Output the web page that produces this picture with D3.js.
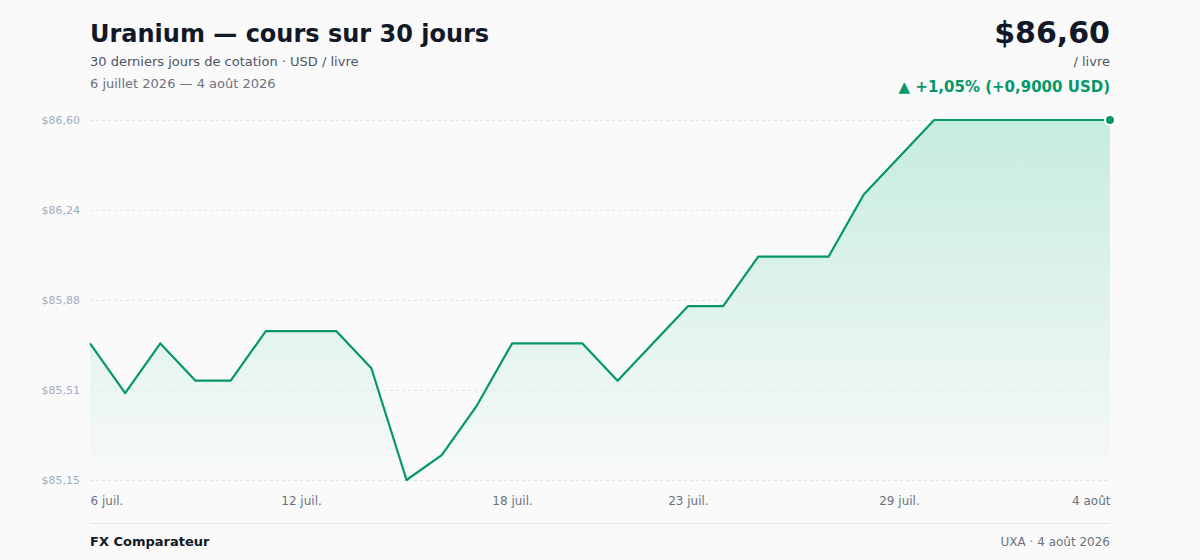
<!DOCTYPE html>
<html>
<head>
<meta charset="utf-8">
<script src="https://cdn.jsdelivr.net/npm/d3@7"></script>
<style>
  body { margin: 0; background: #fafafa; font-family: "DejaVu Sans", sans-serif; }
  svg { display: block; }
</style>
</head>
<body>
<div id="chart"></div>
<script>
// 30 jours de cotation, 6 juillet -> 4 aout 2026
var days = ["6 juil.", "7 juil.", "8 juil.", "9 juil.", "10 juil.", "11 juil.", "12 juil.", "13 juil.",
  "14 juil.", "15 juil.", "16 juil.", "17 juil.", "18 juil.", "19 juil.", "20 juil.", "21 juil.",
  "22 juil.", "23 juil.", "24 juil.", "25 juil.", "26 juil.", "27 juil.", "28 juil.", "29 juil.",
  "30 juil.", "31 juil.", "1 août", "2 août", "3 août", "4 août"];
var prices = [85.70, 85.50, 85.70, 85.55, 85.55, 85.75, 85.75, 85.75, 85.60, 85.15,
  85.25, 85.45, 85.70, 85.70, 85.70, 85.55, 85.70, 85.85, 85.85, 86.05,
  86.05, 86.05, 86.30, 86.45, 86.60, 86.60, 86.60, 86.60, 86.60, 86.60];
var tickDays = ["6 juil.", "12 juil.", "18 juil.", "23 juil.", "29 juil.", "4 août"];

var svgWidth = 1200;
var svgHeight = 560;
var margin = { top: 120, right: 90, bottom: 80, left: 90 };
var width = svgWidth - margin.left - margin.right;
var height = svgHeight - margin.top - margin.bottom;

var green = "#059669";
var fmt = d3.format(".2f");
function money(v) { return "$" + fmt(v).replace(".", ","); }

var svg = d3.select("#chart")
  .append("svg")
  .attr("width", svgWidth)
  .attr("height", svgHeight);

var defs = svg.append("defs");
var grad = defs.append("linearGradient")
  .attr("id", "areaFill")
  .attr("x1", 0).attr("y1", 0).attr("x2", 0).attr("y2", 1);
grad.append("stop").attr("offset", "0%").attr("stop-color", "#10b981").attr("stop-opacity", 0.22);
grad.append("stop").attr("offset", "100%").attr("stop-color", "#10b981").attr("stop-opacity", 0.01);

// header
svg.append("text")
  .attr("x", 90).attr("y", 42)
  .style("font-size", "24px").style("font-weight", "bold").style("fill", "#111827")
  .text("Uranium — cours sur 30 jours");
svg.append("text")
  .attr("x", 90).attr("y", 66)
  .style("font-size", "13px").style("fill", "#4b5563")
  .text("30 derniers jours de cotation · USD / livre");
svg.append("text")
  .attr("x", 90).attr("y", 88)
  .style("font-size", "13px").style("fill", "#6b7280")
  .text("6 juillet 2026 — 4 août 2026");

var last = prices[prices.length - 1];
var first = prices[0];
var diff = last - first;
var pct = diff / first * 100;

svg.append("text")
  .attr("x", 1110).attr("y", 43)
  .attr("text-anchor", "end")
  .style("font-size", "30px").style("font-weight", "bold").style("fill", "#111827")
  .text(money(last));
svg.append("text")
  .attr("x", 1110).attr("y", 66)
  .attr("text-anchor", "end")
  .style("font-size", "13px").style("fill", "#4b5563")
  .text("/ livre");
svg.append("text")
  .attr("x", 1110).attr("y", 92)
  .attr("text-anchor", "end")
  .style("font-size", "15px").style("font-weight", "bold").style("fill", green)
  .text("▲ +" + d3.format(".2f")(pct).replace(".", ",") + "% (+" + d3.format(".4f")(diff).replace(".", ",") + " USD)");

var chartGroup = svg.append("g")
  .attr("transform", `translate(${margin.left}, ${margin.top})`);

// scales
var xScale = d3.scalePoint()
  .domain(days)
  .range([0, width]);

var yMin = d3.min(prices), yMax = d3.max(prices);
var yScale = d3.scaleLinear()
  .domain([yMin, yMax])
  .range([height, 0]);

var yTicks = d3.range(5).map(i => yMin + (yMax - yMin) * i / 4);

// area + line
var area = d3.area()
  .x((d, i) => xScale(days[i]))
  .y0(height - 17)
  .y1(d => yScale(d));

var line = d3.line()
  .x((d, i) => xScale(days[i]))
  .y(d => yScale(d));

chartGroup.append("path")
  .datum(prices)
  .attr("d", area)
  .attr("fill", "url(#areaFill)");

// grid + y labels
var leftAxis = d3.axisLeft(yScale)
  .tickValues(yTicks)
  .tickSize(-width)
  .tickPadding(10)
  .tickFormat(money);

var yAxisG = chartGroup.append("g").call(leftAxis);
yAxisG.select(".domain").remove();
yAxisG.selectAll(".tick line")
  .attr("stroke", "#e2e5ea")
  .attr("stroke-dasharray", "3,3");
yAxisG.selectAll(".tick text")
  .style("font-family", "DejaVu Sans, sans-serif")
  .style("font-size", "11px")
  .style("fill", "#a0aec0");

// x labels
var bottomAxis = d3.axisBottom(xScale)
  .tickValues(tickDays)
  .tickSize(0)
  .tickPadding(16);

var xAxisG = chartGroup.append("g")
  .attr("transform", `translate(0, ${height})`)
  .call(bottomAxis);
xAxisG.select(".domain").remove();
xAxisG.selectAll(".tick text")
  .style("font-family", "DejaVu Sans, sans-serif")
  .style("font-size", "12px")
  .style("fill", "#6b7280")
  .attr("text-anchor", (d, i) => i === 0 ? "start" : (i === tickDays.length - 1 ? "end" : "middle"));

chartGroup.append("path")
  .datum(prices)
  .attr("d", line)
  .attr("fill", "none")
  .attr("stroke", green)
  .attr("stroke-width", 2.2)
  .attr("stroke-linejoin", "round");

chartGroup.append("circle")
  .attr("cx", xScale(days[days.length - 1]))
  .attr("cy", yScale(last))
  .attr("r", 5)
  .attr("fill", green)
  .attr("stroke", "#ffffff")
  .attr("stroke-width", 2);

// footer
svg.append("line")
  .attr("x1", 90).attr("x2", 1110)
  .attr("y1", 523.5).attr("y2", 523.5)
  .attr("stroke", "#e5e7eb");
svg.append("text")
  .attr("x", 90).attr("y", 546)
  .style("font-size", "13px").style("font-weight", "bold").style("fill", "#111827")
  .text("FX Comparateur");
svg.append("text")
  .attr("x", 1110).attr("y", 546)
  .attr("text-anchor", "end")
  .style("font-size", "12px").style("fill", "#6b7280")
  .text("UXA · 4 août 2026");
</script>
</body>
</html>
